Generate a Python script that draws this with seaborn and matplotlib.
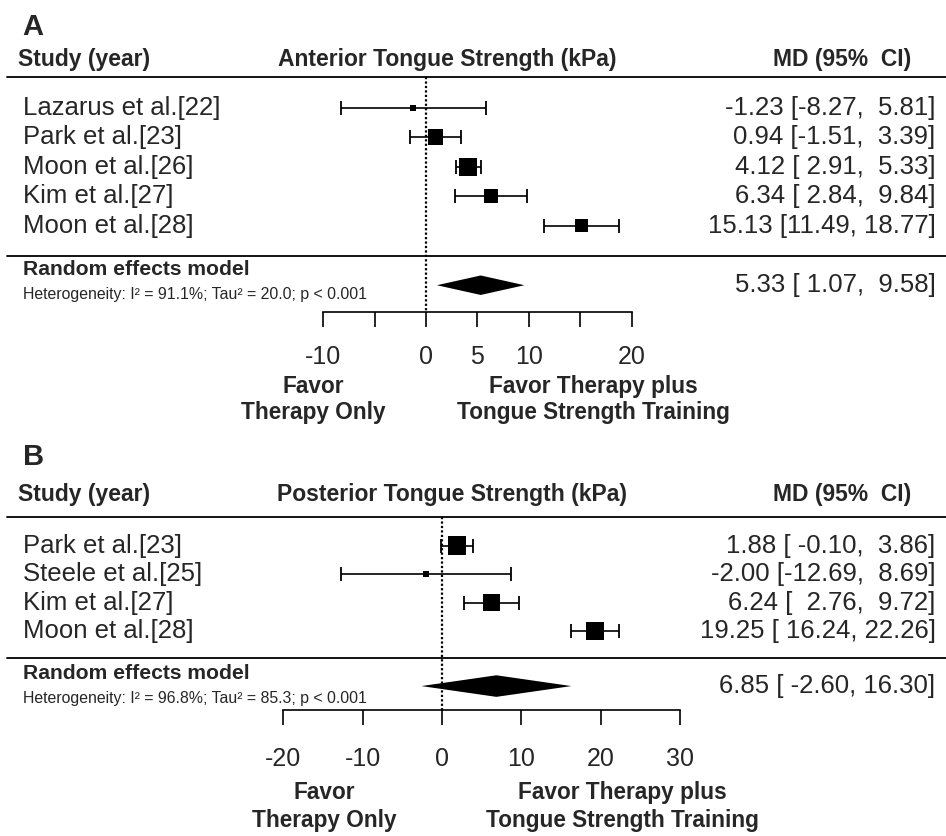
"""
Forest plots - tongue strength training (anterior / posterior)
"""

import numpy as np
import matplotlib.pyplot as plt
import seaborn as sns

# Panel A - anterior tongue strength
studies_a = ['Lazarus et al.[22]', 'Park et al.[23]', 'Moon et al.[26]',
             'Kim et al.[27]', 'Moon et al.[28]']
md_a = [-1.23, 0.94, 4.12, 6.34, 15.13]
lower_a = [-8.27, -1.51, 2.91, 2.84, 11.49]
upper_a = [5.81, 3.39, 5.33, 9.84, 18.77]
weight_a = [3.7, 24.9, 32.5, 20.4, 18.4]
summary_a = [5.33, 1.07, 9.58]
ticks_a = [-10, -5, 0, 5, 10, 15, 20]
tick_labels_a = ['-10', '', '0', '5', '10', '', '20']
het_a = 'Heterogeneity: I² = 91.1%; Tau² = 20.0; p < 0.001'

# Panel B - posterior tongue strength
studies_b = ['Park et al.[23]', 'Steele et al.[25]', 'Kim et al.[27]',
             'Moon et al.[28]']
md_b = [1.88, -2.00, 6.24, 19.25]
lower_b = [-0.10, -12.69, 2.76, 16.24]
upper_b = [3.86, 8.69, 9.72, 22.26]
weight_b = [34.7, 3.5, 29.9, 32.0]
summary_b = [6.85, -2.60, 16.30]
ticks_b = [-20, -10, 0, 10, 20, 30]
tick_labels_b = ['-20', '-10', '0', '10', '20', '30']
het_b = 'Heterogeneity: I² = 96.8%; Tau² = 85.3; p < 0.001'

# area (pt^2) per % weight for the study boxes
BOX_AREA = 5.2


def ci_labels(md, lower, upper, summary):
    """Text 'MD [low, up]' padded the way R meta does it."""
    lows = [f'{v:.2f}' for v in list(lower) + [summary[1]]]
    ups = [f'{v:.2f}' for v in list(upper) + [summary[2]]]
    wl = max(len(s) for s in lows)
    wu = max(len(s) for s in ups)
    mds = list(md) + [summary[0]]
    return [f'{m:.2f} [{l:>{wl}}, {u:>{wu}}]' for m, l, u in zip(mds, lows, ups)]


def draw_panel(ax, letter, outcome, studies, md, lower, upper, weights,
               summary, ticks, tick_labels, het, lay):
    rows = np.arange(len(studies))
    md = np.array(md)
    lower = np.array(lower)
    upper = np.array(upper)

    ax.set_facecolor('none')
    ax.set_xlim(lay['xlim'])
    ax.set_ylim(lay['ylim'])
    tr = ax.get_yaxis_transform()

    # headers
    ax.text(0.024, lay['letter'], letter, transform=tr, fontsize=21,
            fontweight='bold', ha='left', va='center')
    ax.text(0.019, lay['header'], 'Study (year)', transform=tr, fontsize=16.5,
            fontweight='bold', ha='left', va='center')
    ax.text(lay['outcome_x'], lay['header'], outcome, transform=tr,
            fontsize=16.5, fontweight='bold', ha='center', va='center')
    ax.text(0.963, lay['header'], 'MD (95%  CI)', transform=tr, fontsize=16.5,
            fontweight='bold', ha='right', va='center')
    ax.axhline(lay['line1'], xmin=0.007, xmax=1, color='black', lw=1.3)
    ax.axhline(lay['line2'], xmin=0.007, xmax=1, color='black', lw=1.3)

    # study rows
    labels = ci_labels(md, lower, upper, summary)
    for r, name, lab in zip(rows, studies, labels):
        ax.text(0.024, r, name, transform=tr, fontsize=18.5, ha='left', va='center')
        ax.text(0.989, r, lab, transform=tr, fontsize=18.5, ha='right', va='center')

    # reference line at 0
    ax.vlines(0, lay['line1'], lay['axis'], color='black', lw=1.6,
              linestyles=(0, (1.0, 1.0)))

    ax.errorbar(md, rows, xerr=[md - lower, upper - md], fmt='none',
                ecolor='black', elinewidth=1.2, capsize=5, capthick=1.3)
    sns.scatterplot(x=md, y=rows, size=weights, sizes=(0, BOX_AREA * max(weights)),
                    size_norm=(0, max(weights)), marker='s', color='black',
                    linewidth=0, legend=False, ax=ax, zorder=3)

    # pooled estimate
    m, lo, hi = summary
    yd = lay['diamond']
    h = lay['diamond_h']
    ax.fill([lo, m, hi, m], [yd, yd - h, yd, yd + h], color='black', lw=0)
    ax.text(0.024, lay['rem'], 'Random effects model', transform=tr,
            fontsize=15.2, fontweight='bold', ha='left', va='center')
    ax.text(0.024, lay['het'], het, transform=tr, fontsize=11.4,
            ha='left', va='center')
    ax.text(0.989, lay['diamond'], labels[-1], transform=tr, fontsize=18.5,
            ha='right', va='center')

    # x axis drawn as forest plot scale
    sns.despine(ax=ax, left=True)
    ax.spines['bottom'].set_position(('data', lay['axis']))
    ax.spines['bottom'].set_bounds(ticks[0], ticks[-1])
    ax.spines['bottom'].set_color('black')
    ax.spines['bottom'].set_linewidth(1.2)
    ax.set_xticks(ticks, tick_labels)
    ax.set_yticks([])
    ax.tick_params(axis='x', bottom=True, direction='out', length=10.8,
                   width=1.2, color='black', pad=lay['pad'], labelsize=18)
    ax.set_xlabel('')
    ax.set_ylabel('')

    # favour labels
    ax.text(lay['left_x'], lay['favor1'], 'Favor', transform=tr, fontsize=16.3,
            fontweight='bold', ha='center', va='center')
    ax.text(lay['left_x'], lay['favor2'], 'Therapy Only', transform=tr,
            fontsize=16.3, fontweight='bold', ha='center', va='center')
    ax.text(lay['right_x'], lay['favor1'], 'Favor Therapy plus', transform=tr,
            fontsize=16.3, fontweight='bold', ha='center', va='center')
    ax.text(lay['right_x'], lay['favor2'], 'Tongue Strength Training',
            transform=tr, fontsize=16.3, fontweight='bold', ha='center', va='center')


def main():
    sns.set_style('ticks')
    plt.rcParams['font.family'] = ['Liberation Sans', 'DejaVu Sans']
    plt.rcParams['axes.unicode_minus'] = False

    fig = plt.figure(figsize=(9.46, 8.36), dpi=100)
    ax_a = fig.add_axes([0, 0.4976, 1, 0.5024])
    ax_b = fig.add_axes([0, 0, 1, 0.4976])

    lay_a = dict(xlim=(-41.43, 50.59), ylim=(10.59, -3.65), letter=-2.74,
                 header=-1.62, line1=-1.03, line2=5.03, rem=5.50, diamond=6.02,
                 diamond_h=0.33, het=6.35, axis=6.92, pad=13.0, favor1=9.46,
                 favor2=10.35, outcome_x=0.473, left_x=0.331, right_x=0.627)
    lay_b = dict(xlim=(-55.71, 63.52), ylim=(10.22, -4.43), letter=-3.13,
                 header=-1.79, line1=-1.02, line2=3.94, rem=4.49, diamond=4.94,
                 diamond_h=0.38, het=5.37, axis=5.79, pad=16.0, favor1=8.70,
                 favor2=9.66, outcome_x=0.478, left_x=0.3425, right_x=0.6575)

    draw_panel(ax_a, 'A', 'Anterior Tongue Strength (kPa)', studies_a, md_a,
               lower_a, upper_a, weight_a, summary_a, ticks_a, tick_labels_a,
               het_a, lay_a)
    draw_panel(ax_b, 'B', 'Posterior Tongue Strength (kPa)', studies_b, md_b,
               lower_b, upper_b, weight_b, summary_b, ticks_b, tick_labels_b,
               het_b, lay_b)

    fig.savefig('out.png', dpi=100)


if __name__ == '__main__':
    main()
